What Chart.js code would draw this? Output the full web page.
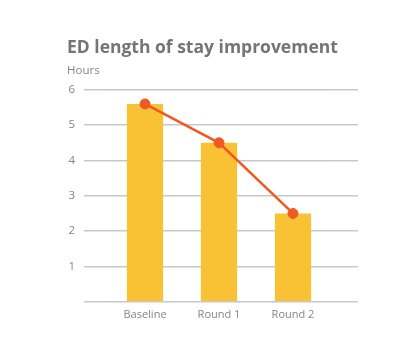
<!DOCTYPE html>
<html>
<head>
<meta charset="utf-8">
<script src="https://cdn.jsdelivr.net/npm/chart.js@4"></script>
<style>
  html, body { margin: 0; padding: 0; background: #fff; }
  #wrap { width: 413px; height: 356px; }
</style>
</head>
<body>
<div id="wrap"><canvas id="chart"></canvas></div>
<script>
var categories = ['Baseline', 'Round 1', 'Round 2'];
var barValues = [5.6, 4.5, 2.5];
var lineValues = [5.6, 4.5, 2.5];
var yTicks = [0, 1, 2, 3, 4, 5, 6];

var gridColor = '#c8c8c8';
var textColor = '#858585';
var fontFamily = "'Open Sans', sans-serif";

var ctx = document.getElementById('chart');
new Chart(ctx, {
    type: 'bar',
    data: {
        labels: categories,
        datasets: [{
            type: 'line',
            data: lineValues,
            borderColor: '#f05a22',
            backgroundColor: '#f05a22',
            borderWidth: 2.5,
            pointBorderWidth: 1,
            radius: 5,
            hoverRadius: 5,
            tension: 0,
            order: 0
        }, {
            type: 'bar',
            data: barValues,
            backgroundColor: '#f8c234',
            categoryPercentage: 1,
            barPercentage: 0.49,
            order: 1
        }]
    },
    options: {
        responsive: true,
        maintainAspectRatio: false,
        animation: {
            duration: 0
        },
        layout: {
            padding: { left: 67, right: 55, top: 0, bottom: 29 }
        },
        plugins: {
            legend: { display: false },
            tooltip: { enabled: false },
            title: {
                display: true,
                text: 'ED length of stay improvement',
                align: 'start',
                color: '#757575',
                font: { family: fontFamily, size: 17.5, weight: 'bold' },
                padding: { top: 38, bottom: 5 }
            },
            subtitle: {
                display: true,
                text: 'Hours',
                align: 'start',
                color: textColor,
                font: { family: fontFamily, size: 11.5 },
                padding: { top: 0, bottom: 12 }
            }
        },
        scales: {
            x: {
                grid: { display: false, drawTicks: false },
                border: { display: false },
                ticks: {
                    color: textColor,
                    font: { family: fontFamily, size: 11 },
                    padding: 6
                }
            },
            y: {
                min: yTicks[0],
                max: yTicks[yTicks.length - 1],
                afterBuildTicks: function (scale) {
                    scale.ticks = yTicks.map(function (v) { return { value: v }; });
                },
                afterFit: function (scale) {
                    scale.width = 41;
                },
                grid: { color: gridColor, lineWidth: 1.5, tickLength: 24 },
                border: { display: false },
                ticks: {
                    color: textColor,
                    font: { family: fontFamily, size: 11.5 },
                    padding: 9,
                    callback: function (v) { return v === 0 ? '' : v; }
                }
            },
            yRight: {
                position: 'right',
                min: yTicks[0],
                max: yTicks[yTicks.length - 1],
                afterBuildTicks: function (scale) {
                    scale.ticks = yTicks.map(function (v) { return { value: v }; });
                },
                grid: { color: gridColor, lineWidth: 1.5, tickLength: 28, drawOnChartArea: false },
                border: { display: false },
                ticks: { display: false }
            }
        }
    }
});
</script>
</body>
</html>
